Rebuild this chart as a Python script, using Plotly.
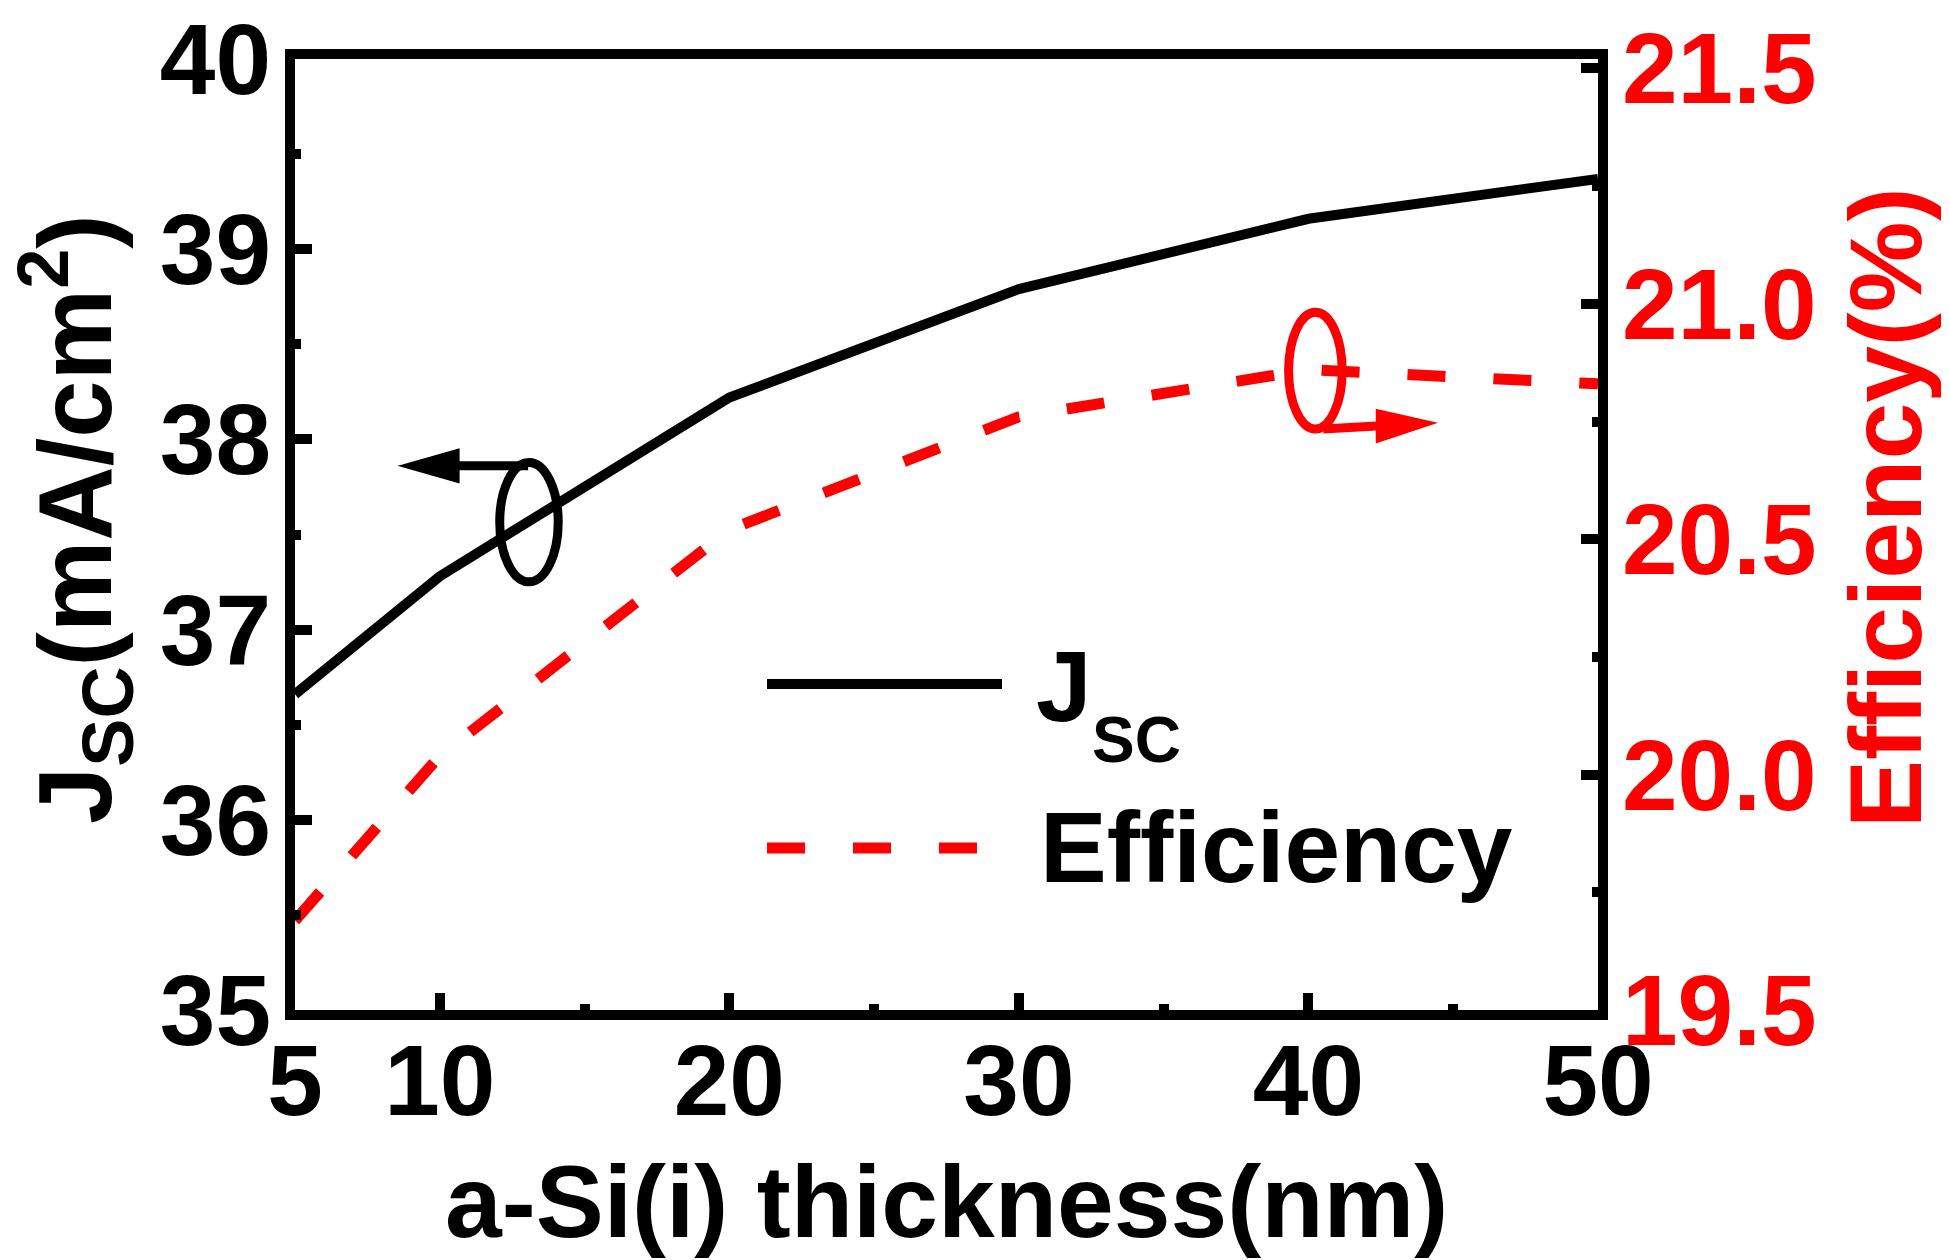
import plotly.graph_objects as go

# a-Si(i) thickness sweep
thickness = [5, 10, 20, 30, 40, 50]
jsc = [36.66, 37.28, 38.22, 38.79, 39.16, 39.37]          # mA/cm^2
efficiency = [19.69, 20.04, 20.52, 20.76, 20.86, 20.83]   # %

x_ticks = [5, 10, 20, 30, 40, 50]
x_minor = [15, 25, 35, 45]
jsc_ticks = [35, 36, 37, 38, 39, 40]
jsc_minor = [35.5, 36.5, 37.5, 38.5, 39.5]
eff_ticks = [19.5, 20.0, 20.5, 21.0, 21.5]
eff_minor = [19.75, 20.25, 20.75, 21.25]

FONT = "Liberation Sans, Arial, sans-serif"
FS = 100
RED = "#ff0000"

# page body adds an 8px margin; the plot area should land at 295..1598 x 59..1010
PAGE = 8
W, H = 1949 - PAGE, 1260 - PAGE
L, T = 295 - PAGE, 59 - PAGE
R, B = W - (1598 - PAGE), H - (1010 - PAGE)

fig = go.Figure()
fig.add_trace(go.Scatter(
    x=thickness, y=jsc, mode="lines", name="J<sub>SC</sub>",
    line=dict(color="black", width=10), showlegend=False,
))
fig.add_trace(go.Scatter(
    x=thickness, y=efficiency, mode="lines", name="Efficiency", yaxis="y2",
    line=dict(color=RED, width=11, dash="38px,48px"), showlegend=False,
))

tick_common = dict(
    ticks="inside", ticklen=17, tickwidth=10, tickcolor="black",
    showline=True, linewidth=10, linecolor="black",
    showgrid=False, zeroline=False, automargin=False,
    ticklabeloverflow="allow",
)
minor_common = dict(ticks="inside", ticklen=6, tickwidth=10, tickcolor="black")

fig.update_layout(
    width=W, height=H,
    margin=dict(l=L, r=R, t=T, b=B, autoexpand=False),
    plot_bgcolor="white", paper_bgcolor="white",
    font=dict(family=FONT, size=FS, color="black", weight="bold"),
    xaxis=dict(
        range=[5, 50], tickvals=x_ticks, ticktext=[str(v) for v in x_ticks],
        mirror=True, ticklabelstandoff=-25,
        minor=dict(tickvals=x_minor, **minor_common),
        tickfont=dict(family=FONT, size=FS, color="black", weight="bold"),
        **tick_common,
    ),
    yaxis=dict(
        range=[35, 40], tickvals=jsc_ticks, ticktext=[str(v) for v in jsc_ticks],
        ticklabelstandoff=-6,
        minor=dict(tickvals=jsc_minor, **minor_common),
        tickfont=dict(family=FONT, size=FS, color="black", weight="bold"),
        **tick_common,
    ),
    yaxis2=dict(
        overlaying="y", side="right",
        range=[19.5, 21.52], tickvals=eff_ticks, ticktext=[f"{v:.1f}" for v in eff_ticks],
        ticklabelstandoff=-6,
        minor=dict(tickvals=eff_minor, **minor_common),
        tickfont=dict(family=FONT, size=FS, color=RED, weight="bold"),
        **tick_common,
    ),
)


def px_x(p):
    # screen pixel -> paper x
    return (p - PAGE - L) / (W - L - R)


def px_y(p):
    # screen pixel -> paper y
    return (H - B - (p - PAGE)) / (H - T - B)


def label(text, x, y, size=FS, color="black", xanchor="center", angle=0):
    fig.add_annotation(text=text, xref="paper", yref="paper", x=px_x(x), y=px_y(y),
                       xanchor=xanchor, yanchor="middle", textangle=angle, showarrow=False,
                       font=dict(family=FONT, size=size, color=color, weight="bold"))


# axis titles
label("a-Si(i) thickness(nm)", 946, 1202, size=102)
label("J<sub>SC</sub>(mA/cm<sup>2</sup>)", 75, 519, size=103, angle=-90)
label("Efficiency(%)", 1886, 507, size=102, color=RED, angle=-90)

# legend (drawn by hand so the swatches are as long as in the original)
fig.add_shape(type="line", xref="paper", yref="paper",
              x0=px_x(767), x1=px_x(1002), y0=px_y(684), y1=px_y(684),
              line=dict(color="black", width=10))
fig.add_shape(type="line", xref="paper", yref="paper",
              x0=px_x(767), x1=px_x(1002), y0=px_y(848), y1=px_y(848),
              line=dict(color=RED, width=11, dash="38px,48px"))
label("J", 1034, 686, xanchor="left")
label("SC", 1090, 740, size=64, xanchor="left")
label("Efficiency", 1038, 847, xanchor="left")

# axis markers: ellipse + arrow pointing to the axis each curve belongs to
jsc_ring = dict(xc=13.08, yc=37.565, rx=1.01, ry=0.314)
eff_ring = dict(xc=40.24, yc=20.858, rx=0.925, ry=0.124)
fig.add_shape(type="circle", xref="x", yref="y",
              x0=jsc_ring["xc"] - jsc_ring["rx"], x1=jsc_ring["xc"] + jsc_ring["rx"],
              y0=jsc_ring["yc"] - jsc_ring["ry"], y1=jsc_ring["yc"] + jsc_ring["ry"],
              line=dict(color="black", width=9))
fig.add_shape(type="circle", xref="x", yref="y2",
              x0=eff_ring["xc"] - eff_ring["rx"], x1=eff_ring["xc"] + eff_ring["rx"],
              y0=eff_ring["yc"] - eff_ring["ry"], y1=eff_ring["yc"] + eff_ring["ry"],
              line=dict(color=RED, width=9))


def arrow(tail, tip, head_len, head_half, yref, color):
    # shaft up to the head base, then a filled triangle
    dirx = 1 if tip[0] > tail[0] else -1
    bx = tip[0] - dirx * head_len
    frac = (bx - tail[0]) / (tip[0] - tail[0])
    by = tail[1] + frac * (tip[1] - tail[1])
    fig.add_shape(type="line", xref="x", yref=yref,
                  x0=tail[0], y0=tail[1], x1=bx, y1=by,
                  line=dict(color=color, width=9))
    fig.add_shape(type="path", xref="x", yref=yref,
                  path=f"M {tip[0]},{tip[1]} L {bx},{by + head_half} L {bx},{by - head_half} Z",
                  fillcolor=color, line=dict(color=color, width=2))


arrow((13.05, 37.861), (8.66, 37.861), 1.99, 0.086, "y", "black")
arrow((40.51, 20.734), (44.35, 20.747), 1.99, 0.034, "y2", RED)

fig.write_html("out.html")
